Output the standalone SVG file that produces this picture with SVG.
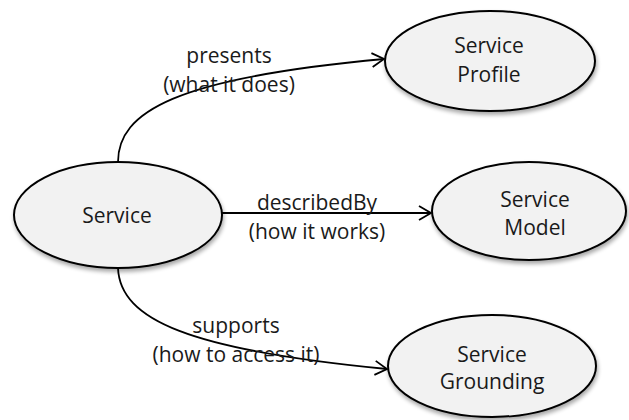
<svg xmlns="http://www.w3.org/2000/svg" width="629" height="420" viewBox="0 0 629 420">
  <style>
    .node ellipse { fill: #f2f2f2; stroke: #000; stroke-width: 2; filter: url(#shadow); }
    .node text, .label text { font-family: "Open Sans", "Liberation Sans", sans-serif; font-size: 21px; fill: #1a1a1a; text-anchor: middle; }
    .edge { fill: none; stroke: #000; stroke-width: 1.8; marker-end: url(#arrow); }
  </style>
  <defs>
    <filter id="shadow" x="-20%" y="-20%" width="140%" height="150%">
      <feGaussianBlur in="SourceAlpha" stdDeviation="2"/>
      <feOffset dx="1" dy="3" result="b"/>
      <feComponentTransfer><feFuncA type="linear" slope="0.35"/></feComponentTransfer>
      <feMerge><feMergeNode/><feMergeNode in="SourceGraphic"/></feMerge>
    </filter>
    <marker id="arrow" markerWidth="16" markerHeight="16" refX="13" refY="8" orient="auto" markerUnits="userSpaceOnUse">
      <path d="M1,1 L13,8 L1,15" fill="none" stroke="#000" stroke-width="1.8"/>
    </marker>
  </defs>

  <rect width="629" height="420" fill="#fff"/>

  <g id="connectors">
    <path class="edge" d="M118,162 C118,112 175,78 384,59"/>
    <path class="edge" d="M222,213 L431,213"/>
    <path class="edge" d="M118,268 C120,320 190,350 387,369"/>
  </g>

  <g id="labels" class="label">
    <text x="229" y="63">presents</text>
    <text x="229" y="92">(what it does)</text>
    <text x="317" y="210">describedBy</text>
    <text x="317" y="239">(how it works)</text>
    <text x="236" y="333">supports</text>
    <text x="236" y="362">(how to access it)</text>
  </g>

  <g id="service" class="node">
    <ellipse cx="118" cy="215" rx="104" ry="53"/>
    <text x="117" y="223">Service</text>
  </g>

  <g id="service-profile" class="node">
    <ellipse cx="490" cy="61" rx="105" ry="50"/>
    <text x="489" y="53">Service</text>
    <text x="489" y="82">Profile</text>
  </g>

  <g id="service-model" class="node">
    <ellipse cx="529" cy="211" rx="97" ry="49"/>
    <text x="535" y="207">Service</text>
    <text x="535" y="235">Model</text>
  </g>

  <g id="service-grounding" class="node">
    <ellipse cx="492" cy="366" rx="104" ry="51"/>
    <text x="492" y="362">Service</text>
    <text x="492" y="389">Grounding</text>
  </g>
</svg>
